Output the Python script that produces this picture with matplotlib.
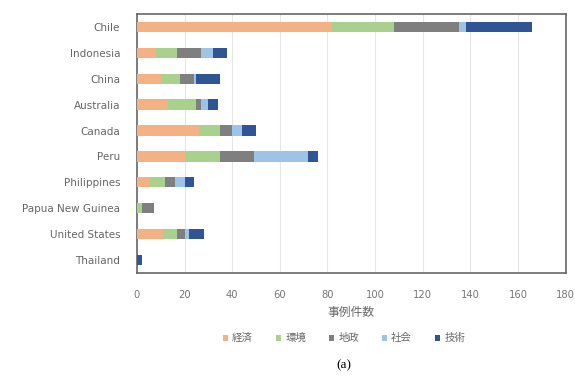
import matplotlib
matplotlib.use("Agg")
import matplotlib.pyplot as plt
import numpy as np

plt.rcParams['font.family'] = ['DejaVu Sans', 'Noto Sans CJK JP']

countries = ["Chile", "Indonesia", "China", "Australia", "Canada", "Peru",
             "Philippines", "Papua New Guinea", "United States", "Thailand"]
series_names = ["経済", "環境", "地政", "社会", "技術"]
keizai  = [82, 8, 10, 13, 26, 20, 5, 0, 11, 0]
kankyo  = [26, 9, 8, 12, 9, 15, 7, 2, 6, 0]
chisei  = [27, 10, 6, 2, 5, 14, 4, 5, 3, 0]
shakai  = [3, 5, 1, 3, 4, 23, 4, 0, 2, 0]
gijutsu = [28, 6, 10, 4, 6, 4, 4, 0, 6, 2]
series = [keizai, kankyo, chisei, shakai, gijutsu]
colors = ["#F4B183", "#A9D18E", "#7F7F7F", "#9DC3E6", "#2F5597"]
xticks = [0, 20, 40, 60, 80, 100, 120, 140, 160, 180]

fig = plt.figure(figsize=(5.75, 3.8), dpi=100)
ax = fig.add_axes([0.238, 0.282, 0.746, 0.681])

y = np.arange(len(countries))
left = np.zeros(len(countries))
for name, vals, c in zip(series_names, series, colors):
    ax.barh(y, vals, left=left, height=0.4, color=c, label=name, zorder=3)
    left += np.array(vals)

ax.set_ylim(len(countries) - 0.5, -0.5)
ax.set_xlim(0, 180)
ax.set_yticks(y)
ax.set_yticklabels(countries, fontsize=7.5, color="#666666")
ax.set_xticks(xticks)
ax.set_xticklabels([str(t) for t in xticks], fontsize=7.2, color="#777777")
ax.tick_params(axis='both', length=0)
ax.tick_params(axis='x', pad=12)
ax.tick_params(axis='y', pad=12)
ax.grid(axis='x', color="#e6e6e6", linewidth=0.8, zorder=0)
for s in ax.spines.values():
    s.set_color("#666666")
    s.set_linewidth(1.2)
ax.set_xlabel("事例件数", fontsize=8.5, color="#666666", labelpad=5,
              family=['Noto Sans CJK JP', 'DejaVu Sans'])

leg = fig.legend(loc="center", bbox_to_anchor=(0.598, 0.11), ncol=5, frameon=False,
                 prop={'family': ['Noto Sans CJK JP', 'DejaVu Sans'], 'size': 7.5},
                 handlelength=0.5, handleheight=0.5, handletextpad=0.4,
                 columnspacing=2.2)
for t in leg.get_texts():
    t.set_color("#666666")

fig.text(0.598, 0.04, "(a)", fontsize=9.5, family="Liberation Serif", ha="center", va="center")

fig.savefig("out.png", dpi=100, facecolor="white")
